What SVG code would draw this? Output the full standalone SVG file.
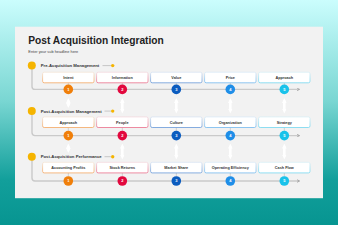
<svg xmlns="http://www.w3.org/2000/svg" width="338" height="225" viewBox="0 0 338 225">
<defs>
<linearGradient id="bg" x1="0" y1="0" x2="0" y2="1">
<stop offset="0" stop-color="#cbfdfd"/>
<stop offset="0.45" stop-color="#79d6d2"/>
<stop offset="0.8" stop-color="#129f9b"/>
<stop offset="1" stop-color="#079591"/>
</linearGradient>
<linearGradient id="g1" x1="0" y1="0" x2="0" y2="1"><stop offset="0" stop-color="#f3e3d4"/><stop offset="1" stop-color="#f39a4a"/></linearGradient>
<linearGradient id="g2" x1="0" y1="0" x2="0" y2="1"><stop offset="0" stop-color="#f3d6dc"/><stop offset="1" stop-color="#e85a7a"/></linearGradient>
<linearGradient id="g3" x1="0" y1="0" x2="0" y2="1"><stop offset="0" stop-color="#d6e2f2"/><stop offset="1" stop-color="#528ad3"/></linearGradient>
<linearGradient id="g4" x1="0" y1="0" x2="0" y2="1"><stop offset="0" stop-color="#d8e9f7"/><stop offset="1" stop-color="#5eaeec"/></linearGradient>
<linearGradient id="g5" x1="0" y1="0" x2="0" y2="1"><stop offset="0" stop-color="#d6eef5"/><stop offset="1" stop-color="#5fd1ee"/></linearGradient>
<marker id="ah" viewBox="0 0 6 6" refX="5" refY="3" markerWidth="3.5" markerHeight="3.5" markerUnits="userSpaceOnUse" orient="auto">
<path d="M0.5,0.5 L5,3 L0.5,5.5" fill="none" stroke="#8a8a8a" stroke-width="1"/>
</marker>
<marker id="wh" viewBox="0 0 6 6" refX="3" refY="3" markerWidth="5" markerHeight="5" markerUnits="userSpaceOnUse" orient="auto-start-reverse">
<path d="M0,0.3 L6,3 L0,5.7 Z" fill="#ffffff"/>
</marker>
</defs>
<style>
.title{font-family:"Liberation Sans",Arial,sans-serif;font-weight:bold;font-size:10.2px;fill:#222222}
.sub{font-family:"Liberation Sans",Arial,sans-serif;font-size:3.9px;fill:#444444}
.hdr{font-family:"Liberation Sans",Arial,sans-serif;font-weight:bold;font-size:4.25px;fill:#333333}
.lbl{font-family:"Liberation Sans",Arial,sans-serif;font-weight:bold;font-size:3.8px;fill:#333333;text-anchor:middle}
.num{font-family:"Liberation Sans",Arial,sans-serif;font-weight:bold;font-size:4px;fill:#ffffff;text-anchor:middle}
.card{fill:#ffffff;stroke-width:0.7}
.track{fill:none;stroke:#cacaca;stroke-width:1.4}
.tick{stroke:#9a9a9a;stroke-width:0.4}
.dash{stroke:#9a9a9a;stroke-width:0.5}
.warr{stroke:#ffffff;stroke-width:2.6;marker-start:url(#wh);marker-end:url(#wh)}
.ydot{fill:#f5b400}
.c1{fill:#f07f0a}.c2{fill:#e2083e}.c3{fill:#0b5cbf}.c4{fill:#1f8ee8}.c5{fill:#19c2ea}
</style>
<rect x="0" y="0" width="338" height="225" fill="url(#bg)"/>
<rect x="15" y="26.7" width="308" height="171.5" fill="#f2f2f2"/>
<text class="title" x="28.3" y="44">Post Acquisition Integration</text>
<text class="sub" x="28.3" y="52.7">Enter your sub headline here</text>

<g id="connectors">
<path class="track" d="M32,69 V86.4 Q32,89.4 35,89.4 H299.5" marker-end="url(#ah)"/>
<path class="track" d="M32,114.5 V132.6 Q32,135.6 35,135.6 H299.5" marker-end="url(#ah)"/>
<path class="track" d="M32,160 V178 Q32,181 35,181 H299.5" marker-end="url(#ah)"/>
<line class="dash" x1="102.5" y1="65.6" x2="111" y2="65.6"/>
<line class="dash" x1="104.5" y1="111.1" x2="111" y2="111.1"/>
<line class="dash" x1="104.5" y1="156.7" x2="111" y2="156.7"/>
<g id="ticks">
<line class="tick" x1="68.3" y1="82.8" x2="68.3" y2="85"/><line class="tick" x1="122.3" y1="82.8" x2="122.3" y2="85"/><line class="tick" x1="176.3" y1="82.8" x2="176.3" y2="85"/><line class="tick" x1="230.3" y1="82.8" x2="230.3" y2="85"/><line class="tick" x1="284.3" y1="82.8" x2="284.3" y2="85"/>
<line class="tick" x1="68.3" y1="127.5" x2="68.3" y2="131"/><line class="tick" x1="122.3" y1="127.5" x2="122.3" y2="131"/><line class="tick" x1="176.3" y1="127.5" x2="176.3" y2="131"/><line class="tick" x1="230.3" y1="127.5" x2="230.3" y2="131"/><line class="tick" x1="284.3" y1="127.5" x2="284.3" y2="131"/>
<line class="tick" x1="68.3" y1="172.9" x2="68.3" y2="176.4"/><line class="tick" x1="122.3" y1="172.9" x2="122.3" y2="176.4"/><line class="tick" x1="176.3" y1="172.9" x2="176.3" y2="176.4"/><line class="tick" x1="230.3" y1="172.9" x2="230.3" y2="176.4"/><line class="tick" x1="284.3" y1="172.9" x2="284.3" y2="176.4"/>
</g>
<g id="between-rows">
<line class="warr" x1="68.3" y1="100.5" x2="68.3" y2="105.5"/><line class="warr" x1="122.3" y1="100.5" x2="122.3" y2="111"/><line class="warr" x1="176.3" y1="100.5" x2="176.3" y2="111"/><line class="warr" x1="230.3" y1="100.5" x2="230.3" y2="111"/><line class="warr" x1="284.3" y1="100.5" x2="284.3" y2="111"/>
<line class="warr" x1="68.3" y1="146" x2="68.3" y2="150.5"/><line class="warr" x1="122.3" y1="146" x2="122.3" y2="157"/><line class="warr" x1="176.3" y1="146" x2="176.3" y2="157"/><line class="warr" x1="230.3" y1="146" x2="230.3" y2="157"/><line class="warr" x1="284.3" y1="146" x2="284.3" y2="157"/>
</g>
</g>

<g id="row1-header"><circle class="ydot" cx="31.8" cy="65.6" r="4"/><text class="hdr" x="40.7" y="67.1">Pre-Acquisition Management</text><circle class="ydot" cx="112.7" cy="65.6" r="1.7"/></g>
<g id="row2-header"><circle class="ydot" cx="31.8" cy="111.1" r="4"/><text class="hdr" x="40.7" y="112.6">Post-Acquisition Management</text><circle class="ydot" cx="112.7" cy="111.1" r="1.7"/></g>
<g id="row3-header"><circle class="ydot" cx="31.8" cy="156.7" r="4"/><text class="hdr" x="40.7" y="158.2">Post-Acquisition Performance</text><circle class="ydot" cx="112.7" cy="156.7" r="1.7"/></g>

<g id="r1-intent"><rect class="card" x="42.6" y="72.2" width="51.4" height="10.6" rx="1.6" stroke="url(#g1)"/><text class="lbl" x="68.3" y="78.8">Intent</text></g>
<g id="r1-information"><rect class="card" x="96.6" y="72.2" width="51.4" height="10.6" rx="1.6" stroke="url(#g2)"/><text class="lbl" x="122.3" y="78.8">Information</text></g>
<g id="r1-value"><rect class="card" x="150.6" y="72.2" width="51.4" height="10.6" rx="1.6" stroke="url(#g3)"/><text class="lbl" x="176.3" y="78.8">Value</text></g>
<g id="r1-price"><rect class="card" x="204.6" y="72.2" width="51.4" height="10.6" rx="1.6" stroke="url(#g4)"/><text class="lbl" x="230.3" y="78.8">Price</text></g>
<g id="r1-approach"><rect class="card" x="258.6" y="72.2" width="51.4" height="10.6" rx="1.6" stroke="url(#g5)"/><text class="lbl" x="284.3" y="78.8">Approach</text></g>

<g id="r2-approach"><rect class="card" x="42.6" y="116.9" width="51.4" height="10.6" rx="1.6" stroke="url(#g1)"/><text class="lbl" x="68.3" y="123.5">Approach</text></g>
<g id="r2-people"><rect class="card" x="96.6" y="116.9" width="51.4" height="10.6" rx="1.6" stroke="url(#g2)"/><text class="lbl" x="122.3" y="123.5">People</text></g>
<g id="r2-culture"><rect class="card" x="150.6" y="116.9" width="51.4" height="10.6" rx="1.6" stroke="url(#g3)"/><text class="lbl" x="176.3" y="123.5">Culture</text></g>
<g id="r2-organization"><rect class="card" x="204.6" y="116.9" width="51.4" height="10.6" rx="1.6" stroke="url(#g4)"/><text class="lbl" x="230.3" y="123.5">Organization</text></g>
<g id="r2-strategy"><rect class="card" x="258.6" y="116.9" width="51.4" height="10.6" rx="1.6" stroke="url(#g5)"/><text class="lbl" x="284.3" y="123.5">Strategy</text></g>

<g id="r3-accounting"><rect class="card" x="42.6" y="162.3" width="51.4" height="10.6" rx="1.6" stroke="url(#g1)"/><text class="lbl" x="68.3" y="168.9">Accounting Profits</text></g>
<g id="r3-stock"><rect class="card" x="96.6" y="162.3" width="51.4" height="10.6" rx="1.6" stroke="url(#g2)"/><text class="lbl" x="122.3" y="168.9">Stock Returns</text></g>
<g id="r3-market"><rect class="card" x="150.6" y="162.3" width="51.4" height="10.6" rx="1.6" stroke="url(#g3)"/><text class="lbl" x="176.3" y="168.9">Market Share</text></g>
<g id="r3-operating"><rect class="card" x="204.6" y="162.3" width="51.4" height="10.6" rx="1.6" stroke="url(#g4)"/><text class="lbl" x="230.3" y="168.9">Operating Efficiency</text></g>
<g id="r3-cashflow"><rect class="card" x="258.6" y="162.3" width="51.4" height="10.6" rx="1.6" stroke="url(#g5)"/><text class="lbl" x="284.3" y="168.9">Cash Flow</text></g>

<g id="r1-n1"><circle class="c1" cx="68.3" cy="89.4" r="4.8"/><text class="num" x="68.3" y="90.8">1</text></g>
<g id="r1-n2"><circle class="c2" cx="122.3" cy="89.4" r="4.8"/><text class="num" x="122.3" y="90.8">2</text></g>
<g id="r1-n3"><circle class="c3" cx="176.3" cy="89.4" r="4.8"/><text class="num" x="176.3" y="90.8">3</text></g>
<g id="r1-n4"><circle class="c4" cx="230.3" cy="89.4" r="4.8"/><text class="num" x="230.3" y="90.8">4</text></g>
<g id="r1-n5"><circle class="c5" cx="284.3" cy="89.4" r="4.8"/><text class="num" x="284.3" y="90.8">5</text></g>

<g id="r2-n1"><circle class="c1" cx="68.3" cy="135.6" r="4.8"/><text class="num" x="68.3" y="137">1</text></g>
<g id="r2-n2"><circle class="c2" cx="122.3" cy="135.6" r="4.8"/><text class="num" x="122.3" y="137">2</text></g>
<g id="r2-n3"><circle class="c3" cx="176.3" cy="135.6" r="4.8"/><text class="num" x="176.3" y="137">3</text></g>
<g id="r2-n4"><circle class="c4" cx="230.3" cy="135.6" r="4.8"/><text class="num" x="230.3" y="137">4</text></g>
<g id="r2-n5"><circle class="c5" cx="284.3" cy="135.6" r="4.8"/><text class="num" x="284.3" y="137">5</text></g>

<g id="r3-n1"><circle class="c1" cx="68.3" cy="181" r="4.8"/><text class="num" x="68.3" y="182.4">1</text></g>
<g id="r3-n2"><circle class="c2" cx="122.3" cy="181" r="4.8"/><text class="num" x="122.3" y="182.4">2</text></g>
<g id="r3-n3"><circle class="c3" cx="176.3" cy="181" r="4.8"/><text class="num" x="176.3" y="182.4">3</text></g>
<g id="r3-n4"><circle class="c4" cx="230.3" cy="181" r="4.8"/><text class="num" x="230.3" y="182.4">4</text></g>
<g id="r3-n5"><circle class="c5" cx="284.3" cy="181" r="4.8"/><text class="num" x="284.3" y="182.4">5</text></g>
</svg>
